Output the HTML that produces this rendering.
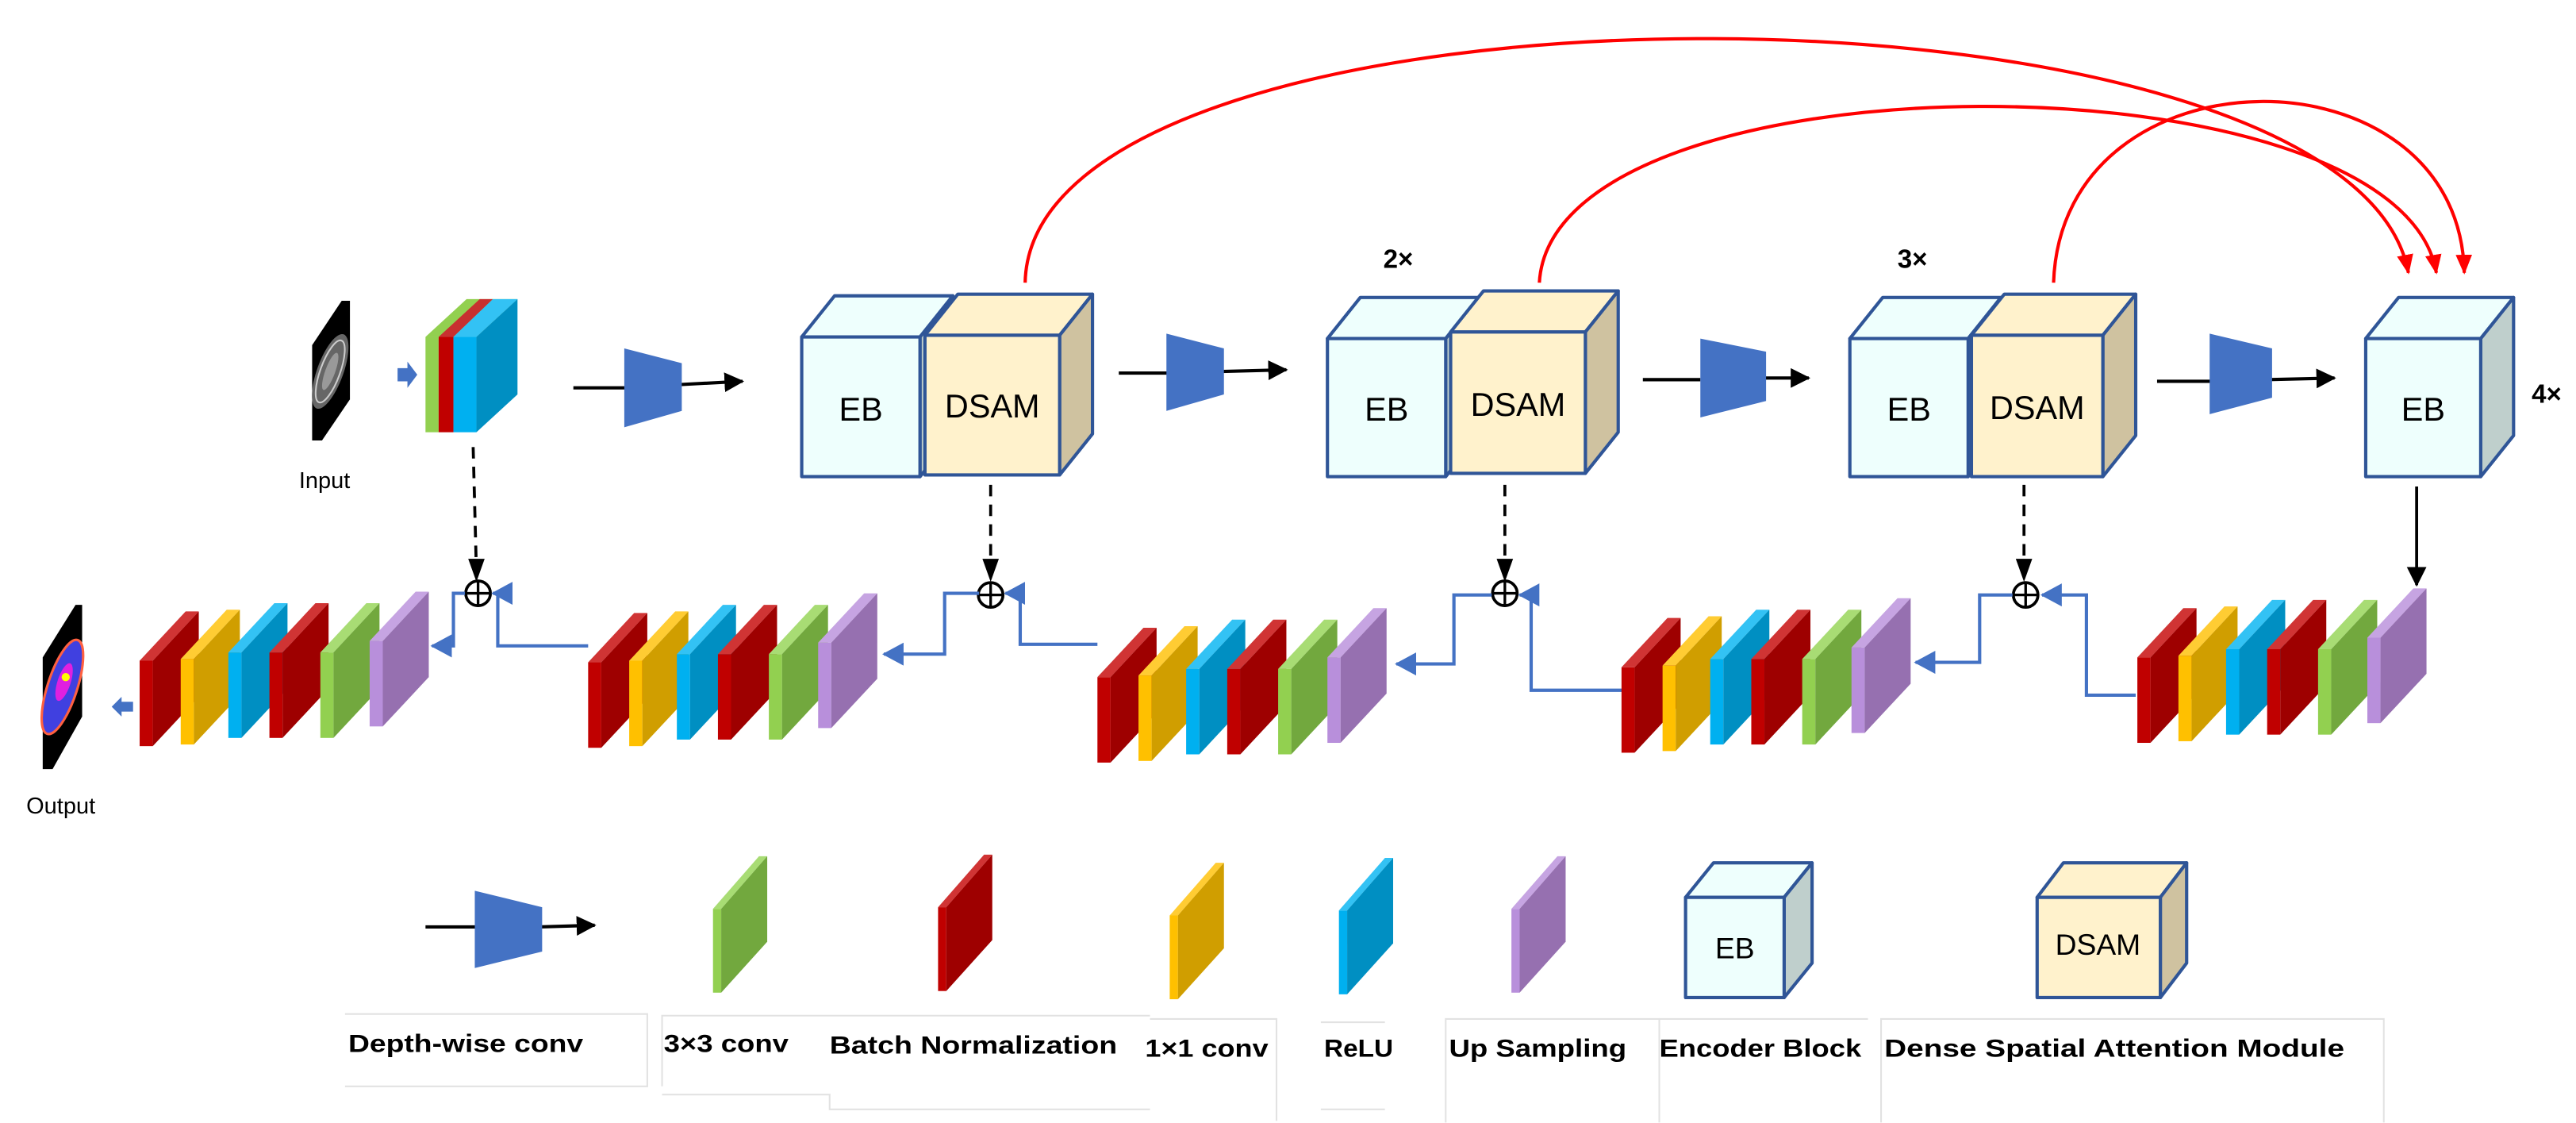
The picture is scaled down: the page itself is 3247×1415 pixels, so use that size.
<!DOCTYPE html>
<html><head><meta charset="utf-8"><style>
html,body{margin:0;padding:0;background:#fff;}
svg{display:block;}
text{font-family:"Liberation Sans",sans-serif;}
</style></head><body>
<svg width="3247" height="1415" viewBox="0 0 1568 683.3" xmlns="http://www.w3.org/2000/svg">
<defs>
<marker id="abig" markerWidth="12" markerHeight="12" refX="11" refY="6" orient="auto" markerUnits="userSpaceOnUse"><path d="M0,0 L12,6 L0,12 z" fill="#000"/></marker>
<marker id="ar" markerWidth="12" markerHeight="16" refX="11" refY="5" orient="auto" markerUnits="userSpaceOnUse"><path d="M0,0 L12,5 L0,10 z" fill="#ff0000"/></marker>
<marker id="abl" markerWidth="14" markerHeight="14" refX="12" refY="7" orient="auto" markerUnits="userSpaceOnUse"><path d="M0,0 L13,7 L0,14 z" fill="#4472c4"/></marker>
<g id="sR"><rect x="0" y="30" width="8" height="52" fill="#c00000"/><polygon points="0,30 28,0 36,0 8,30" fill="#d03434"/><polygon points="8,30 36,0 36,52 8,82" fill="#9e0000"/></g>
<g id="sY"><rect x="0" y="30" width="8" height="52" fill="#ffc000"/><polygon points="0,30 28,0 36,0 8,30" fill="#ffcc33"/><polygon points="8,30 36,0 36,52 8,82" fill="#d09e00"/></g>
<g id="sB"><rect x="0" y="30" width="8" height="52" fill="#00b0f0"/><polygon points="0,30 28,0 36,0 8,30" fill="#33c2f4"/><polygon points="8,30 36,0 36,52 8,82" fill="#008fc2"/></g>
<g id="sG"><rect x="0" y="30" width="8" height="52" fill="#92d050"/><polygon points="0,30 28,0 36,0 8,30" fill="#a8dc74"/><polygon points="8,30 36,0 36,52 8,82" fill="#72a83e"/></g>
<g id="sP"><rect x="0" y="30" width="8" height="52" fill="#b88fdb"/><polygon points="0,30 28,0 36,0 8,30" fill="#c6a4e2"/><polygon points="8,30 36,0 36,52 8,82" fill="#9670b0"/></g>
<g id="stack">
<use href="#sR" x="0" y="1"/><use href="#sY" x="25" y="0"/><use href="#sB" x="54" y="-4"/><use href="#sR" x="79" y="-4"/><use href="#sG" x="110" y="-4"/><use href="#sP" x="140" y="-11"/>
</g>
<g id="plus"><circle cx="0" cy="0" r="7.5" fill="#fff" stroke="#000" stroke-width="1.8"/><line x1="-7.5" y1="0" x2="7.5" y2="0" stroke="#000" stroke-width="1.6"/><line x1="0" y1="-7.5" x2="0" y2="7.5" stroke="#000" stroke-width="1.6"/></g>
</defs>

<g fill="none" stroke="#ff0000" stroke-width="2">
<path d="M624,172 C628,-25 1430,-25 1466,166" marker-end="url(#ar)"/>
<path d="M937,172 C945,30 1460,30 1483,166" marker-end="url(#ar)"/>
<path d="M1250,172 C1255,26 1497,26 1500,166" marker-end="url(#ar)"/>
</g>

<polygon points="190,210 208,183 213,183 213,243 196,268 190,268" fill="#000"/>
<ellipse cx="201" cy="226" rx="8" ry="24" fill="#666" transform="rotate(20 201 226)"/>
<ellipse cx="201" cy="226" rx="6" ry="20" fill="none" stroke="#ccc" stroke-width="1" transform="rotate(20 201 226)"/>
<ellipse cx="201" cy="226" rx="3" ry="12" fill="#999" transform="rotate(20 201 226)"/>
<text x="182" y="297" font-size="14">Input</text>
<polygon points="242,224 248,224 248,220 254,228 248,236 248,232 242,232" fill="#4472c4"/>
<polygon points="259,205 284,182 315,182 290,205" fill="#92d050"/>
<polygon points="267,205 292,182 300,182 276,205" fill="#c83030"/>
<polygon points="276,205 300,182 315,182 290,205" fill="#33c2f4"/>
<rect x="259" y="205" width="8" height="58" fill="#92d050"/>
<rect x="267" y="205" width="9" height="58" fill="#c00000"/>
<rect x="276" y="205" width="14" height="58" fill="#00b0f0"/>
<polygon points="290,205 315,182 315,240 290,263" fill="#008fc2"/>

<g stroke="#000" stroke-width="2" fill="none">
<line x1="349" y1="236" x2="382" y2="236"/><line x1="414" y1="234" x2="452" y2="232" marker-end="url(#abig)"/>
<line x1="681" y1="227" x2="712" y2="227"/><line x1="744" y1="226" x2="783" y2="225" marker-end="url(#abig)"/>
<line x1="1000" y1="231" x2="1035" y2="231"/><line x1="1073" y1="230" x2="1101" y2="230" marker-end="url(#abig)"/>
<line x1="1313" y1="232" x2="1346" y2="232"/><line x1="1381" y1="231" x2="1421" y2="230" marker-end="url(#abig)"/>
</g>
<polygon points="380,212 415,221 415,250 380,260" fill="#4472c4"/>
<polygon points="710,203 745,212 745,240 710,250" fill="#4472c4"/>
<polygon points="1035,206 1075,214 1075,244 1035,254" fill="#4472c4"/>
<polygon points="1345,203 1383,212 1383,242 1345,252" fill="#4472c4"/>

<g stroke="#2f5597" stroke-width="2" stroke-linejoin="round">
<polygon points="488,205 508,180 580,180 560,205" fill="#eefffd"/><polygon points="560,205 580,180 580,265 560,290" fill="#bfcfcc"/><rect x="488" y="205" width="72" height="85" fill="#eefffd"/>
<polygon points="563,204 583,179 665,179 645,204" fill="#fff2cc"/><polygon points="645,204 665,179 665,264 645,289" fill="#cfc2a0"/><rect x="563" y="204" width="82" height="85" fill="#fff2cc"/>
<polygon points="808,206 828,181 900,181 880,206" fill="#eefffd"/><polygon points="880,206 900,181 900,265 880,290" fill="#bfcfcc"/><rect x="808" y="206" width="72" height="84" fill="#eefffd"/>
<polygon points="883,202 903,177 985,177 965,202" fill="#fff2cc"/><polygon points="965,202 985,177 985,263 965,288" fill="#cfc2a0"/><rect x="883" y="202" width="82" height="86" fill="#fff2cc"/>
<polygon points="1126,206 1146,181 1218,181 1198,206" fill="#eefffd"/><polygon points="1198,206 1218,181 1218,265 1198,290" fill="#bfcfcc"/><rect x="1126" y="206" width="72" height="84" fill="#eefffd"/>
<polygon points="1200,204 1220,179 1300,179 1280,204" fill="#fff2cc"/><polygon points="1280,204 1300,179 1300,265 1280,290" fill="#cfc2a0"/><rect x="1200" y="204" width="80" height="86" fill="#fff2cc"/>
<polygon points="1440,206 1460,181 1530,181 1510,206" fill="#eefffd"/><polygon points="1510,206 1530,181 1530,265 1510,290" fill="#bfcfcc"/><rect x="1440" y="206" width="70" height="84" fill="#eefffd"/>
</g>
<g font-size="20" text-anchor="middle">
<text x="524" y="256">EB</text><text x="604" y="254">DSAM</text>
<text x="844" y="256">EB</text><text x="924" y="253">DSAM</text>
<text x="1162" y="256">EB</text><text x="1240" y="255">DSAM</text>
<text x="1475" y="256">EB</text>
</g>
<g font-size="16" font-weight="bold">
<text x="842" y="163">2×</text><text x="1155" y="163">3×</text><text x="1541" y="245">4×</text>
</g>

<g stroke="#000" stroke-width="1.8" stroke-dasharray="7,5" fill="none">
<line x1="288" y1="272" x2="290" y2="348"/>
<line x1="603" y1="295" x2="603" y2="348"/>
<line x1="916" y1="295" x2="916" y2="348"/>
<line x1="1232" y1="295" x2="1232" y2="348"/>
</g>
<g fill="#000">
<path d="M285,340 L295,340 L290,354 z"/>
<path d="M598,340 L608,340 L603,354 z"/>
<path d="M911,340 L921,340 L916,354 z"/>
<path d="M1227,340 L1237,340 L1232,354 z"/>
</g>
<line x1="1471" y1="296" x2="1471" y2="356" stroke="#000" stroke-width="1.8" marker-end="url(#abig)"/>
<use href="#plus" x="291" y="361"/>
<use href="#plus" x="603" y="362"/>
<use href="#plus" x="916" y="361"/>
<use href="#plus" x="1233" y="362"/>

<g fill="none" stroke="#4472c4" stroke-width="2">
<polyline points="1300,423 1270,423 1270,362 1243,362" marker-end="url(#abl)"/>
<polyline points="1225,362 1205,362 1205,403 1166,403" marker-end="url(#abl)"/>
<polyline points="988,420 932,420 932,362 925,362" marker-end="url(#abl)"/>
<polyline points="908,362 885,362 885,404 850,404" marker-end="url(#abl)"/>
<polyline points="668,392 621,392 621,361 612,361" marker-end="url(#abl)"/>
<polyline points="596,361 575,361 575,398 538,398" marker-end="url(#abl)"/>
<polyline points="358,393 303,393 303,361 300,361" marker-end="url(#abl)"/>
<polyline points="283,361 276,361 276,393 263,393" marker-end="url(#abl)"/>
</g>
<polygon points="68,430 74,424 74,427 81,427 81,433 74,433 74,436" fill="#4472c4"/>

<use href="#stack" x="85" y="371"/>
<use href="#stack" x="358" y="372"/>
<use href="#stack" x="668" y="381"/>
<use href="#stack" x="987" y="375"/>
<use href="#stack" x="1301" y="369"/>

<polygon points="26,400 46,368 50,368 50,436 32,468 26,468" fill="#000"/>
<ellipse cx="38" cy="418" rx="9" ry="30" fill="#4040e0" stroke="#ff6040" stroke-width="1.5" transform="rotate(18 38 418)"/>
<ellipse cx="39" cy="415" rx="4" ry="12" fill="#e020e0" transform="rotate(18 39 415)"/>
<circle cx="40" cy="412" r="2.5" fill="#ffff00"/>
<text x="16" y="495" font-size="14">Output</text>

<line x1="259" y1="564" x2="292" y2="564" stroke="#000" stroke-width="2"/>
<line x1="328" y1="564" x2="362" y2="563" stroke="#000" stroke-width="2" marker-end="url(#abig)"/>
<polygon points="289,542 330,552 330,579 289,589" fill="#4472c4"/>
<g>
<rect x="434" y="553" width="5" height="51" fill="#92d050"/><polygon points="434,553 462,521 467,521 439,553" fill="#a8dc74"/><polygon points="439,553 467,521 467,573 439,604" fill="#72a83e"/>
<rect x="571" y="552" width="5" height="51" fill="#c00000"/><polygon points="571,552 599,520 604,520 576,552" fill="#d03434"/><polygon points="576,552 604,520 604,572 576,603" fill="#9e0000"/>
<rect x="712" y="557" width="5" height="51" fill="#ffc000"/><polygon points="712,557 740,525 745,525 717,557" fill="#ffcc33"/><polygon points="717,557 745,525 745,577 717,608" fill="#d09e00"/>
<rect x="815" y="554" width="5" height="51" fill="#00b0f0"/><polygon points="815,554 843,522 848,522 820,554" fill="#33c2f4"/><polygon points="820,554 848,522 848,574 820,605" fill="#008fc2"/>
<rect x="920" y="553" width="5" height="51" fill="#b88fdb"/><polygon points="920,553 948,521 953,521 925,553" fill="#c6a4e2"/><polygon points="925,553 953,521 953,573 925,604" fill="#9670b0"/>
</g>
<g stroke="#2f5597" stroke-width="2" stroke-linejoin="round">
<polygon points="1026,546 1043,525 1103,525 1086,546" fill="#eefffd"/><polygon points="1086,546 1103,525 1103,586 1086,607" fill="#bfcfcc"/><rect x="1026" y="546" width="60" height="61" fill="#eefffd"/>
<polygon points="1240,546 1256,525 1331,525 1315,546" fill="#fff2cc"/><polygon points="1315,546 1331,525 1331,586 1315,607" fill="#cfc2a0"/><rect x="1240" y="546" width="75" height="61" fill="#fff2cc"/>
</g>
<text x="1056" y="583" font-size="18" text-anchor="middle">EB</text>
<text x="1277" y="581" font-size="18" text-anchor="middle">DSAM</text>

<g fill="none" stroke="#e2e2e2" stroke-width="1">
<polyline points="210,617 394,617 394,661 210,661"/>
<polyline points="403,661 403,618 700,618"/>
<polyline points="403,666 505,666 505,675 700,675"/>
<polyline points="700,620 777,620 777,682"/>
<polyline points="804,622 843,622"/><line x1="804" y1="675" x2="843" y2="675"/>
<polyline points="880,683 880,620 1010,620 1010,683"/>
<polyline points="1010,620 1137,620"/>
<polyline points="1145,683 1145,620 1451,620 1451,683"/>
</g>
<g font-size="15" font-weight="bold">
<text x="212" y="640" textLength="143" lengthAdjust="spacingAndGlyphs">Depth-wise conv</text>
<text x="404" y="640" textLength="76" lengthAdjust="spacingAndGlyphs">3×3 conv</text>
<text x="505" y="641" textLength="175" lengthAdjust="spacingAndGlyphs">Batch Normalization</text>
<text x="697" y="643" textLength="75" lengthAdjust="spacingAndGlyphs">1×1 conv</text>
<text x="806" y="643" textLength="42" lengthAdjust="spacingAndGlyphs">ReLU</text>
<text x="882" y="643" textLength="108" lengthAdjust="spacingAndGlyphs">Up Sampling</text>
<text x="1010" y="643" textLength="123" lengthAdjust="spacingAndGlyphs">Encoder Block</text>
<text x="1147" y="643" textLength="280" lengthAdjust="spacingAndGlyphs">Dense Spatial Attention Module</text>
</g>
</svg>
</body></html>
